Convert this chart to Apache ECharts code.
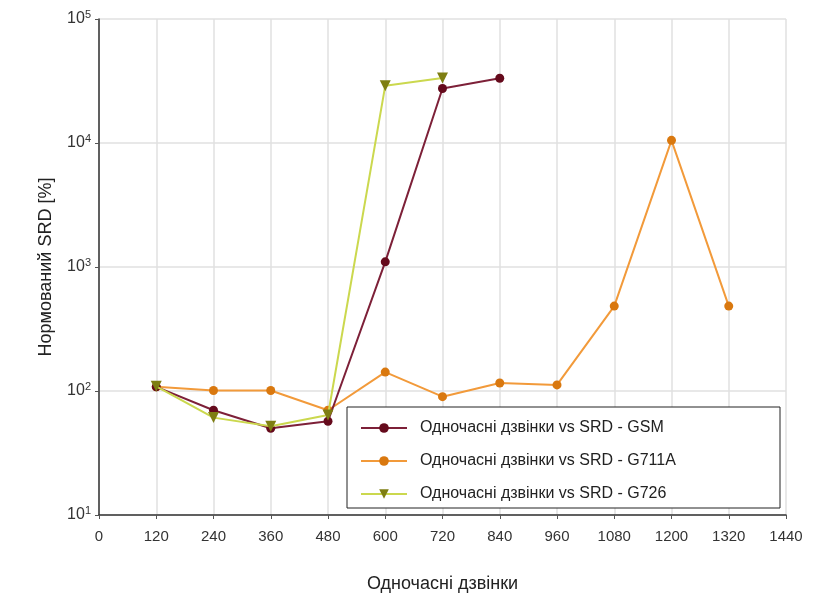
<!DOCTYPE html>
<html><head><meta charset="utf-8">
<script src="https://cdn.jsdelivr.net/npm/echarts@6/dist/echarts.min.js"></script>
<style>html,body{margin:0;padding:0;background:#fff}#c{width:813px;height:603px}</style>
</head><body><div id="c"></div>
<script>
const xCalls = [120, 240, 360, 480, 600, 720, 840, 960, 1080, 1200, 1320];
const gsm = [108, 70, 50, 57, 1100, 27500, 33300];
const g711a = [108, 101, 101, 70, 142, 90, 116, 112, 484, 10500, 484];
const g726 = [109, 61, 52, 64, 29000, 33500];
const names = ['Одночасні дзвінки vs SRD - GSM', 'Одночасні дзвінки vs SRD - G711A', 'Одночасні дзвінки vs SRD - G726'];
const xTitle = 'Одночасні дзвінки';
const yTitle = 'Нормований SRD [%]';

function pairs(vals){ return vals.map((v,i)=>[xCalls[i], v]); }
const chart = echarts.init(document.getElementById('c'));
const font = 'Liberation Sans, Arial, sans-serif';
chart.setOption({
  animation:false,
  backgroundColor:'#fff',
  textStyle:{fontFamily:font},
  grid:{left:99, right:27, top:19, bottom:88},
  graphic:[{type:'rect', shape:{x:347, y:407, width:433, height:101}, style:{fill:'#fff', stroke:'#222', lineWidth:1}, z:10}],
  legend:{
    orient:'vertical', left:355, top:413, itemGap:13, itemWidth:46, itemHeight:12, z:20,
    textStyle:{fontSize:16, lineHeight:20, color:'#222', fontFamily:font, padding:[0,0,0,8]},
    data:names
  },
  xAxis:{
    type:'value', min:0, max:1440, interval:120,
    name:xTitle, nameLocation:'middle', nameGap:60,
    nameTextStyle:{fontSize:18, color:'#222'},
    axisLine:{show:true, onZero:false, lineStyle:{color:'#333', width:1.5}},
    axisTick:{show:true, length:4, lineStyle:{color:'#555'}},
    axisLabel:{fontSize:15, color:'#333', margin:14, formatter:function(v){return String(v);}},
    splitLine:{show:true, lineStyle:{color:'#e0e0e0', width:1.5}}
  },
  yAxis:{
    type:'log', logBase:10, min:10, max:100000,
    name:yTitle, nameLocation:'middle', nameGap:44, nameRotate:90,
    nameTextStyle:{fontSize:18, color:'#222'},
    axisLine:{show:true, lineStyle:{color:'#333', width:1.5}},
    axisTick:{show:true, length:4, lineStyle:{color:'#555'}},
    axisLabel:{
      fontSize:16, color:'#333', margin:8,
      formatter:function(v){ return '10{s|' + Math.round(Math.log10(v)) + '}'; },
      rich:{s:{fontSize:11, verticalAlign:'top', padding:[0,0,8,0], color:'#333'}}
    },
    splitLine:{show:true, lineStyle:{color:'#e0e0e0', width:1.5}}
  },
  series:[
    {name:names[0], type:'line', data:pairs(gsm), symbol:'circle', symbolSize:9,
     lineStyle:{color:'#7d2038', width:2}, itemStyle:{color:'#650a1c'}, z:3},
    {name:names[1], type:'line', data:pairs(g711a), symbol:'circle', symbolSize:9,
     lineStyle:{color:'#f29a3a', width:2}, itemStyle:{color:'#d9780f'}, z:2},
    {name:names[2], type:'line', data:pairs(g726), symbol:'triangle', symbolRotate:180, symbolSize:11,
     lineStyle:{color:'#cbd84e', width:2}, itemStyle:{color:'#7e7e12'}, z:4}
  ]
});
</script></body></html>
